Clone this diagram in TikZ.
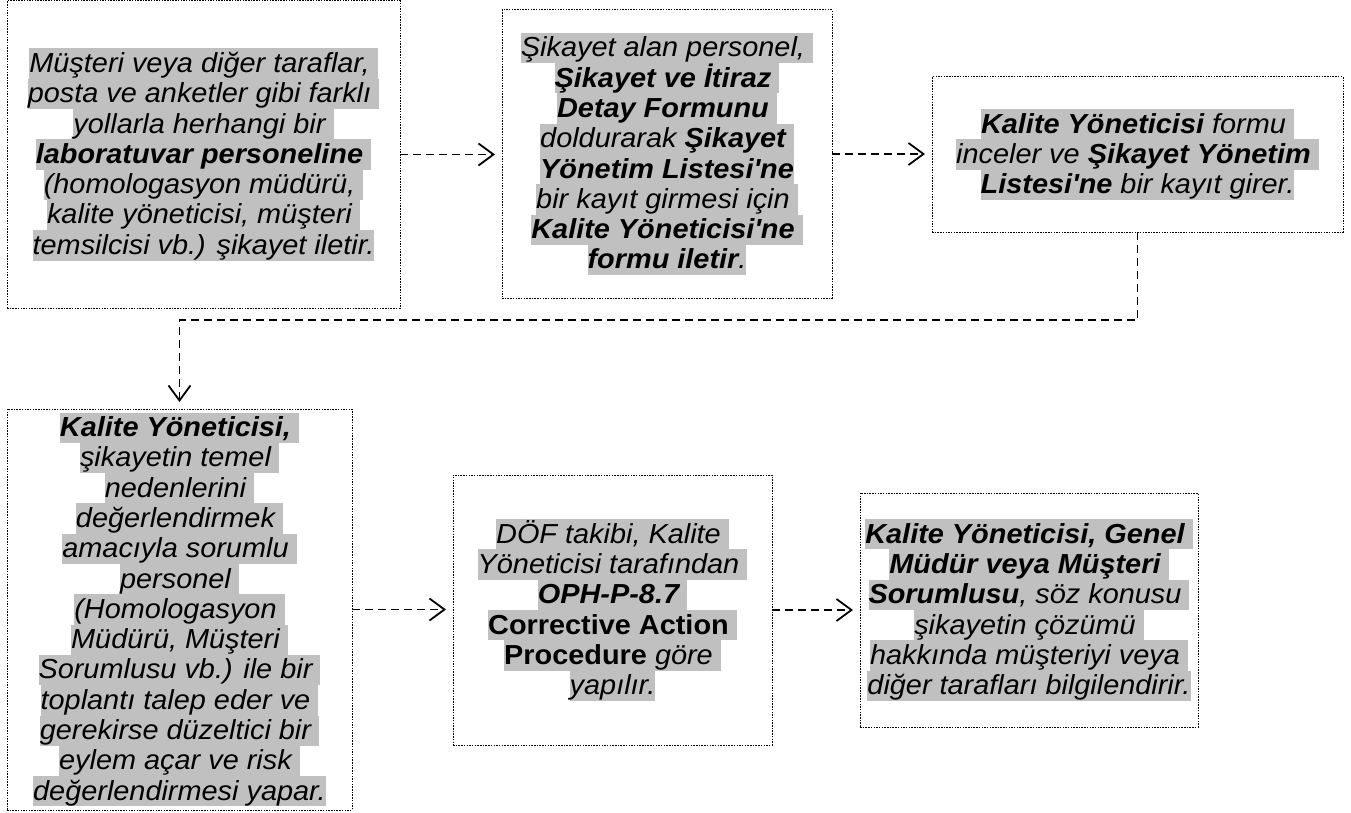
\documentclass[tikz,border=0pt]{standalone}
\usepackage{fontspec}
\setmainfont[FakeStretch=1.05]{Liberation Sans}
\usetikzlibrary{arrows.meta}
\definecolor{hlgray}{HTML}{C0C0C0}
\newcommand\hlL[1]{{\setlength{\fboxsep}{0pt}\colorbox{hlgray}{\rule[-6.3pt]{0pt}{30.3pt}\smash{#1}}}}
\newcommand\apo{\textquotesingle}
\begin{document}
\begin{tikzpicture}[x=1pt,y=-1pt,
 box/.style={draw=black, line width=1pt, dash pattern=on 1.5pt off 1.2pt, inner sep=0pt, outer sep=0pt, align=center, font=\fontsize{27.5pt}{30.3pt}\selectfont\itshape},
 flow/.style={line width=1.8pt, dash pattern=on 8pt off 5pt, -{Straight Barb[length=15pt,width=22pt]}, shorten >=7pt}]
\useasboundingbox (0,0) rectangle (1351,813);
\node[box, minimum width=393pt, minimum height=307pt] (b1) at (203.5,154.5) {%
\hlL{Müşteri veya diğer taraflar,\ }\\
\hlL{posta ve anketler gibi farklı\ }\\
\hlL{yollarla herhangi bir\ }\\
\hlL{\textbf{laboratuvar personeline}\ }\\
\hlL{(homologasyon müdürü,\ }\\
\hlL{kalite yöneticisi, müşteri\ }\\
\hlL{temsilcisi vb.) şikayet iletir.}};
\node[box, minimum width=330pt, minimum height=288pt] (b2) at (667,154) {%
\hlL{Şikayet alan personel,\ }\\
\hlL{\textbf{Şikayet ve İtiraz}\ }\\
\hlL{\textbf{Detay Formunu}\ }\\
\hlL{doldurarak \textbf{Şikayet}\ }\\
\hlL{\textbf{Yönetim Listesi\apo ne}}\\
\hlL{bir kayıt girmesi için\ }\\
\hlL{\textbf{Kalite Yöneticisi\apo ne}\ }\\
\hlL{\textbf{formu iletir}.}};
\node[box, minimum width=411pt, minimum height=155pt] (b3) at (1137.5,154.5) {%
\hlL{\textbf{Kalite Yöneticisi} formu\ }\\
\hlL{inceler ve \textbf{Şikayet Yönetim}\ }\\
\hlL{\textbf{Listesi\apo ne} bir kayıt girer.}};
\node[box, minimum width=345pt, minimum height=401pt] (b4) at (179.5,609.5) {%
\hlL{\textbf{Kalite Yöneticisi,}\ }\\
\hlL{şikayetin temel\ }\\
\hlL{nedenlerini\ }\\
\hlL{değerlendirmek\ }\\
\hlL{amacıyla sorumlu\ }\\
\hlL{personel\ }\\
\hlL{(Homologasyon\ }\\
\hlL{Müdürü, Müşteri\ }\\
\hlL{Sorumlusu vb.) ile bir\ }\\
\hlL{toplantı talep eder ve\ }\\
\hlL{gerekirse düzeltici bir\ }\\
\hlL{eylem açar ve risk\ }\\
\hlL{değerlendirmesi yapar.}};
\node[box, minimum width=319pt, minimum height=270pt] (b5) at (612.5,610) {%
\hlL{DÖF takibi, Kalite\ }\\
\hlL{Yöneticisi tarafından\ }\\
\hlL{\textbf{OPH-P-8.7}\ }\\
\hlL{\textup{\textbf{Corrective Action}}\ }\\
\hlL{\textup{\textbf{Procedure}} göre\ }\\
\hlL{yapılır.}};
\node[box, minimum width=338pt, minimum height=234pt] (b6) at (1029,610) {%
\hlL{\textbf{Kalite Yöneticisi, Genel}\ }\\
\hlL{\textbf{Müdür veya Müşteri}\ }\\
\hlL{\textbf{Sorumlusu}, söz konusu\ }\\
\hlL{şikayetin çözümü\ }\\
\hlL{hakkında müşteriyi veya\ }\\
\hlL{diğer tarafları bilgilendirir.}};
\path (b4.north) ++(0,-89) coordinate (turn);
\draw[flow] (b1.east) -- (b2.west |- b1.east);
\draw[flow] (b2.east) -- (b3.west |- b2.east);
\draw[flow] (b3.south) |- (turn) -- (b4.north);
\draw[flow] (b4.east) -- (b5.west |- b4.east);
\draw[flow] (b5.east) -- (b6.west |- b5.east);
\end{tikzpicture}
\end{document}
